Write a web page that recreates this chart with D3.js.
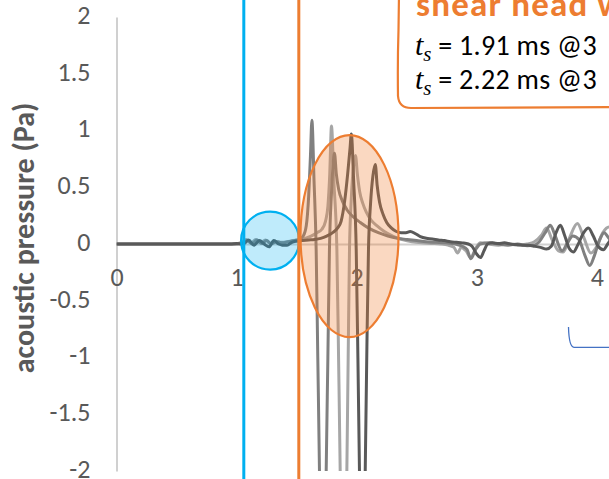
<!DOCTYPE html>
<html>
<head>
<meta charset="utf-8">
<script src="https://cdn.jsdelivr.net/npm/d3@7"></script>
<style>
  html, body { margin: 0; padding: 0; background: #fff; overflow: hidden; }
  svg { display: block; }
</style>
</head>
<body>
<svg id="chart" width="609" height="479"></svg>
<script>
// ---- axis ticks ----
const yTicks = [2, 1.5, 1, 0.5, 0, -0.5, -1, -1.5, -2];
const xTicks = [0, 1, 2, 3, 4];

// ---- pressure traces: time (ms) and acoustic pressure (Pa) ----
const darkTime = [0, 0.5, 0.95, 1.0, 1.04, 1.07, 1.10, 1.145, 1.19, 1.23, 1.27, 1.31, 1.35, 1.38, 1.42, 1.46, 1.50, 1.55, 1.60, 1.65, 1.70, 1.75, 1.80, 1.84, 1.87, 1.90, 1.925, 1.945, 1.955, 1.975, 1.996, 2.01, 2.023, 2.036, 2.048, 2.06, 2.071, 2.085, 2.098, 2.115, 2.135, 2.155, 2.17, 2.19, 2.22, 2.25, 2.29, 2.33, 2.37, 2.41, 2.445, 2.49, 2.53, 2.58, 2.63, 2.68, 2.73, 2.78, 2.83, 2.88, 2.93, 2.96, 3.00, 3.03, 3.06, 3.09, 3.13, 3.18, 3.23, 3.28, 3.33, 3.38, 3.43, 3.48, 3.53, 3.58, 3.62, 3.66, 3.696, 3.73, 3.77, 3.804, 3.84, 3.89, 3.929, 3.97, 4.01, 4.054, 4.09, 4.13, 4.2];
const darkValue = [0, 0, 0, 0.005, 0, 0.01, 0.035, -0.01, 0.03, 0.0, -0.025, 0.03, 0.0, -0.01, -0.012, 0.015, 0.025, 0.03, 0.035, 0.04, 0.05, 0.07, 0.10, 0.14, 0.2, 0.38, 0.62, 0.85, 0.97, 0.55, -0.05, -1.0, -2.0, -3.1, -3.7, -3.1, -2.0, -0.9, -0.05, 0.35, 0.6, 0.70, 0.52, 0.37, 0.26, 0.19, 0.14, 0.11, 0.1, 0.1, 0.11, 0.09, 0.065, 0.05, 0.045, 0.035, 0.03, 0.02, 0.015, 0.01, 0.0, -0.02, -0.09, -0.12, -0.06, 0.0, 0.01, 0.005, 0.01, 0.0, -0.005, -0.01, -0.012, -0.02, -0.03, -0.045, -0.02, 0.1, 0.165, 0.08, -0.04, -0.07, -0.01, 0.1, 0.14, 0.07, -0.02, -0.05, 0.0, 0.06, 0.1];

const midTime = [0, 0.5, 1.0, 1.05, 1.09, 1.13, 1.17, 1.21, 1.25, 1.29, 1.33, 1.38, 1.43, 1.48, 1.52, 1.555, 1.58, 1.60, 1.615, 1.627, 1.645, 1.6625, 1.676, 1.69, 1.704, 1.717, 1.731, 1.746, 1.76, 1.773, 1.79, 1.805, 1.815, 1.83, 1.85, 1.88, 1.92, 1.97, 2.03, 2.1, 2.18, 2.26, 2.34, 2.42, 2.5, 2.58, 2.66, 2.74, 2.82, 2.88, 2.92, 2.95, 2.99, 3.03, 3.1, 3.18, 3.26, 3.34, 3.42, 3.48, 3.52, 3.57, 3.6125, 3.65, 3.71, 3.75, 3.8, 3.85, 3.9, 3.94, 3.98, 4.02, 4.06, 4.1, 4.2];
const midValue = [0, 0, 0, 0.01, 0.03, 0.0, 0.035, 0.005, 0.03, 0.0, 0.02, 0.01, 0.02, 0.03, 0.04, 0.07, 0.16, 0.42, 0.78, 1.09, 0.55, -0.05, -1.0, -2.0, -3.4, -4.2, -3.4, -2.0, -1.0, -0.05, 0.45, 0.72, 0.8, 0.62, 0.48, 0.38, 0.3, 0.24, 0.19, 0.14, 0.1, 0.07, 0.05, 0.04, 0.03, 0.02, 0.015, 0.01, 0.0, -0.02, -0.05, -0.13, -0.05, 0.0, 0.01, 0.0, -0.01, 0.0, -0.015, -0.01, 0.02, 0.1, 0.165, 0.08, -0.06, 0.0, 0.07, 0.04, -0.1, -0.19, -0.1, 0.03, 0.1, 0.05, -0.05];

const lightTime = [0, 0.5, 1.0, 1.04, 1.08, 1.12, 1.16, 1.20, 1.24, 1.28, 1.32, 1.37, 1.42, 1.47, 1.52, 1.57, 1.62, 1.67, 1.71, 1.74, 1.76, 1.775, 1.79, 1.81, 1.835, 1.849, 1.8625, 1.876, 1.89, 1.904, 1.918, 1.929, 1.94, 1.955, 1.975, 1.99, 2.005, 2.025, 2.05, 2.08, 2.12, 2.17, 2.23, 2.3, 2.38, 2.46, 2.54, 2.62, 2.7, 2.76, 2.81, 2.84, 2.87, 2.91, 2.95, 2.99, 3.03, 3.1, 3.18, 3.26, 3.34, 3.42, 3.48, 3.54, 3.58, 3.63, 3.68, 3.72, 3.77, 3.8375, 3.89, 3.95, 4.0, 4.05, 4.1, 4.2];
const lightValue = [0, 0, 0, 0.015, 0.04, 0.01, 0.04, 0.01, 0.035, 0.005, 0.025, 0.015, 0.02, 0.03, 0.035, 0.05, 0.07, 0.1, 0.13, 0.2, 0.33, 0.6, 1.04, 0.55, -0.05, -1.0, -2.0, -3.4, -4.2, -3.4, -2.0, -1.0, -0.05, 0.4, 0.7, 0.78, 0.62, 0.46, 0.36, 0.28, 0.21, 0.16, 0.11, 0.07, 0.04, 0.02, 0.01, 0.005, 0.0, -0.01, -0.03, -0.08, -0.03, -0.06, -0.12, -0.04, 0.01, 0.0, -0.01, 0.0, -0.01, 0.0, 0.02, 0.08, 0.14, 0.03, -0.06, -0.07, 0.05, 0.18, 0.06, -0.08, -0.02, 0.1, 0.15, 0.05];

// ---- annotation marks, in data units ----
const arrivalLines = [{ t: 1.06, color: "#00B0F0" }, { t: 1.518, color: "#ED7D31" }];
const directZone = { t: 1.279, p: 0.03, rPx: 29 };           // blue circle
const shearZone = { t: 1.94, p: 0.07, halfT: 0.408, halfP: 0.89 }; // orange ellipse
const noteTitle = "shear head wave";
const noteLines = [
  { t: "t", sub: "s", rest: " = 1.91 ms @3" },
  { t: "t", sub: "s", rest: " = 2.22 ms @3" }
];

const W = 609, H = 479;
const svg = d3.select("#chart");

const x = d3.scaleLinear().domain([0, 4.2]).range([116.5, 116.5 + 4.2 * 120.1]);
const y = d3.scaleLinear().domain([-2, 2]).range([471, 17]);

const labelFont = "Calibri, Carlito, Lato, 'Open Sans', sans-serif";
const gridColor = "#d0d0d0";
const tickColor = "#595959";

svg.append("defs").append("clipPath").attr("id", "plotClip")
  .append("rect").attr("x", x(0)).attr("y", y(2)).attr("width", W).attr("height", y(-2) - y(2));

// y axis
const yAxis = svg.append("g").attr("transform", `translate(${x(0)},0)`)
  .call(d3.axisLeft(y).tickValues(yTicks).tickSize(0).tickPadding(26).tickFormat(d => String(d)));
yAxis.select(".domain").attr("stroke", gridColor).attr("stroke-width", 2);
yAxis.selectAll("text").attr("font-family", labelFont).attr("font-size", 26)
  .attr("fill", tickColor).attr("dy", "0.24em");

// x axis (crosses at zero), labels set below the line
const xAxis = svg.append("g").attr("transform", `translate(0,${y(0)})`)
  .call(d3.axisBottom(x).tickValues(xTicks).tickSize(0).tickPadding(24).tickFormat(d => String(d)));
xAxis.select(".domain").attr("stroke", gridColor).attr("stroke-width", 2);
xAxis.selectAll("text").attr("font-family", labelFont).attr("font-size", 26)
  .attr("fill", tickColor);

// axis title
svg.append("text")
  .attr("transform", `translate(34,${(y(2) + y(-2)) / 2 - 6}) rotate(-90)`)
  .attr("text-anchor", "middle")
  .attr("font-family", labelFont).attr("font-weight", 700).attr("font-size", 30)
  .attr("fill", tickColor)
  .text("acoustic pressure (Pa)");

// traces
const line = d3.line().x(d => x(d[0])).y(d => y(d[1])).curve(d3.curveMonotoneX);
const traces = [
  { time: lightTime, value: lightValue, color: "#a6a6a6" },
  { time: midTime, value: midValue, color: "#808080" },
  { time: darkTime, value: darkValue, color: "#595959" }
];
const plot = svg.append("g").attr("clip-path", "url(#plotClip)");
traces.forEach(s => {
  plot.append("path")
    .datum(s.time.map((t, i) => [t, s.value[i]]))
    .attr("d", line)
    .attr("fill", "none")
    .attr("stroke", s.color)
    .attr("stroke-width", 3)
    .attr("stroke-linejoin", "round");
});

// highlighted zones
svg.append("circle")
  .attr("cx", x(directZone.t)).attr("cy", y(directZone.p)).attr("r", directZone.rPx)
  .attr("fill", "#00B0F0").attr("fill-opacity", 0.25)
  .attr("stroke", "#00B0F0").attr("stroke-width", 2.2);

svg.append("ellipse")
  .attr("cx", x(shearZone.t)).attr("cy", y(shearZone.p))
  .attr("rx", x(shearZone.halfT) - x(0)).attr("ry", y(0) - y(shearZone.halfP))
  .attr("fill", "#ED7D31").attr("fill-opacity", 0.3)
  .attr("stroke", "#ED7D31").attr("stroke-width", 2.2);

// arrival markers
arrivalLines.forEach(a => {
  svg.append("line")
    .attr("x1", x(a.t)).attr("x2", x(a.t)).attr("y1", 0).attr("y2", H)
    .attr("stroke", a.color).attr("stroke-width", 3);
});

// callout box
svg.append("path")
  .attr("d", "M399,-6 L398.5,30 Q397.5,62 398,96 Q399,108 411,108 L620,107")
  .attr("fill", "#fff").attr("stroke", "#ED7D31").attr("stroke-width", 2.2)
  .attr("stroke-linejoin", "round");

svg.append("text")
  .attr("x", 416).attr("y", 16)
  .attr("font-family", labelFont).attr("font-weight", 700).attr("font-size", 35)
  .attr("letter-spacing", 1.2)
  .attr("fill", "#ED7D31")
  .text(noteTitle);

noteLines.forEach((n, i) => {
  const tx = svg.append("text").attr("x", 415).attr("y", 55 + i * 34)
    .attr("font-size", 28).attr("fill", "#000");
  tx.append("tspan").attr("font-family", "'Liberation Serif', 'DejaVu Serif', serif")
    .attr("font-style", "italic").attr("font-size", 30).text(n.t);
  tx.append("tspan").attr("font-family", "'Liberation Serif', 'DejaVu Serif', serif")
    .attr("font-style", "italic").attr("font-size", 21).attr("dy", 6).text(n.sub);
  tx.append("tspan").attr("font-family", labelFont).attr("dy", -6)
    .attr("letter-spacing", 0.3).text(n.rest);
});

// bracket stroke at lower right
svg.append("path")
  .attr("d", "M568.5,327 Q569,347 574,347.3 L612,347.3")
  .attr("fill", "none").attr("stroke", "#4472C4").attr("stroke-width", 1.3);
</script>
</body>
</html>
